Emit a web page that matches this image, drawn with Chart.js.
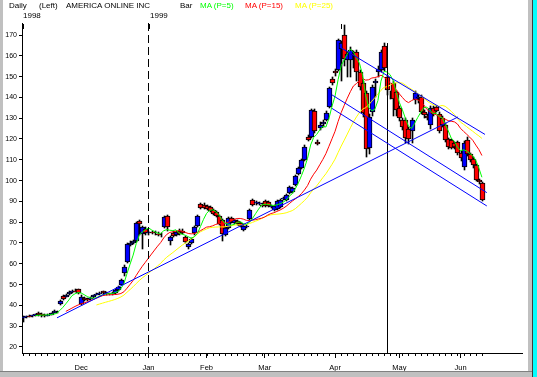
<!DOCTYPE html>
<html>
<head>
<meta charset="utf-8">
<script src="https://cdn.jsdelivr.net/npm/chart.js@4.4.0/dist/chart.umd.min.js"></script>
<style>
    html, body { margin: 0; padding: 0; background: #fff; }
    .wrap { position: relative; width: 537px; height: 377px; overflow: hidden; background: #fff; font-family: 'Liberation Sans', Arial, sans-serif; }
    canvas { position: absolute; left: 0; top: 0; }
    .lbl { position: absolute; font-size: 8px; line-height: 8px; white-space: nowrap; color: #000; }
    .edge { position: absolute; }
</style>
</head>
<body>
<div class="wrap">
    <canvas id="chart" width="537" height="377"></canvas>
    <div class="lbl" style="left:9px;top:2px">Daily</div>
    <div class="lbl" style="left:39px;top:2px">(Left)</div>
    <div class="lbl" style="left:66px;top:2px">AMERICA ONLINE INC</div>
    <div class="lbl" style="left:180px;top:2px">Bar</div>
    <div class="lbl" style="left:200px;top:2px;color:#00ff00">MA (P=5)</div>
    <div class="lbl" style="left:245px;top:2px;color:#ff0000">MA (P=15)</div>
    <div class="lbl" style="left:295px;top:2px;color:#ffff00">MA (P=25)</div>
    <div class="lbl" style="left:23px;top:12px">1998</div>
    <div class="lbl" style="left:150px;top:12px">1999</div>
    <div class="edge" style="left:0;top:0;width:3px;height:377px;background:#c0c0c0"></div>
    <div class="edge" style="left:528px;top:0;width:4px;height:377px;background:#c0c0c0"></div>
    <div class="edge" style="left:532px;top:0;width:1px;height:377px;background:#404040"></div>
    <div class="edge" style="left:533px;top:0;width:4px;height:377px;background:#00ffff"></div>
    <div class="edge" style="left:0;top:371px;width:532px;height:1px;background:#808080"></div>
    <div class="edge" style="left:0;top:372px;width:532px;height:5px;background:#c0c0c0"></div>
</div>
<script>
// trading days, index 0 = 3 Nov 1998 ... index 150 = 10 Jun 1999
const monthIdx = [19, 41, 60, 79, 102, 123, 143];
const monthLabels = ['Dec', 'Jan', 'Feb', 'Mar', 'Apr', 'May', 'Jun'];
const yTicks = [20, 30, 40, 50, 60, 70, 80, 90, 100, 110, 120, 130, 140, 150, 160, 170];

const opens = [
    34, 34.5, 35, 34.8, 35.2, 36.3, 35.8, 35.3, 35, 35.6,
    36.5, 37, 40.8, 44.5, 44.2, 45.5, 46.5, 47, 47.8, 40.5,
    43.5, 43.2, 43, 44, 45, 45.5, 46.8, 46, 45.3, 45.5,
    46, 47.3, 50, 55.4, 61, 69, 70.2, 71, 80.5, 74.5,
    76.5, 75, 75.3, 75, 74.5, 74, 77.5, 83, 71, 75,
    74, 76, 76, 73, 68, 70, 74.6, 78, 88.7, 88.5,
    88, 87.5, 86, 85, 83, 81, 74, 77, 82, 79.6,
    80.5, 79.5, 76.3, 77.5, 81.5, 90.5, 89, 88.8, 88.5, 90,
    89.5, 87.5, 86, 86.5, 87.5, 91, 90.5, 94, 94.5, 98,
    103, 106, 110, 121, 121, 133.6, 118.5, 125.3, 127, 129,
    135.4, 149, 152.7, 153, 163.5, 170, 158, 158, 161, 162,
    152, 147, 142, 115.7, 133, 147, 152, 153, 164.7, 150,
    141.8, 147, 142.6, 135, 129, 129, 125, 124, 138.7, 139.5,
    140, 133, 131, 126.7, 135, 135.5, 132, 130, 126.7, 120,
    119.5, 118, 118.5, 113.3, 106.5, 119.5, 113, 110.5, 107.5, 100.3,
    99
];
const highs = [
    35, 35, 35.3, 35.5, 36, 36.6, 36.3, 35.8, 36, 36.5,
    37.8, 37.5, 42.5, 45, 45.5, 47, 47.5, 47.7, 48, 45,
    44, 43.5, 44, 45, 45.8, 46.5, 47, 46.6, 46, 46.4,
    48, 49.5, 52.5, 59.2, 70, 71, 71.5, 80, 81, 78,
    77.5, 76, 76, 75.8, 75.3, 74.8, 83, 83.5, 73.5, 75.8,
    76, 76.5, 76.5, 73.5, 70, 72.5, 78, 83.5, 89.3, 89,
    88.5, 88, 86.5, 85.5, 83.5, 81.5, 77.5, 82.5, 82.5, 81.5,
    81, 80, 78.8, 78.5, 86.5, 91, 90, 89.8, 89, 90.5,
    90, 88.2, 88.5, 90.5, 91, 92, 93.5, 97.5, 97, 102.5,
    106.5, 110.5, 117, 122, 134.5, 134.5, 119.5, 128, 129, 133.5,
    145, 150, 153.5, 168, 167, 175, 162, 164, 162.5, 163,
    153, 148, 143, 132, 146, 149, 155, 163, 166, 151,
    143, 148, 143, 136, 130, 130, 126, 130, 143, 141,
    141, 134, 132, 136, 136, 136, 133, 131, 127.5, 120.5,
    120, 118.5, 119, 114, 119, 121, 113.5, 111.5, 108, 100.8,
    99.5
];
const lows = [
    32, 34, 34.3, 34.5, 35, 35, 34.6, 34.5, 34.8, 35.2,
    36.2, 36.2, 40.3, 42.8, 43.8, 45, 46, 46.2, 45.5, 40.2,
    42, 42, 42.6, 43.6, 44.8, 45, 45.5, 45.2, 44.8, 45,
    45.7, 47, 49.7, 54, 60.5, 68.5, 69.5, 70.5, 74, 67,
    73.8, 74, 74.3, 74, 73.4, 73, 77, 76, 69, 72.8,
    73.5, 74, 74.5, 70, 67, 69.5, 74, 77.5, 86.5, 86.5,
    85.8, 85, 83.5, 82.5, 78.5, 71, 73.5, 76.5, 79.5, 79,
    78.8, 77.5, 75.8, 77, 81, 88, 88.5, 88.3, 87.5, 87.5,
    87.2, 86.8, 85.5, 86, 87, 90.5, 90, 93.5, 94, 97.5,
    102.5, 105.5, 109.5, 119, 120.5, 123, 117, 124.5, 126, 128.5,
    135, 146, 150.5, 152.5, 148, 155, 150, 150, 154, 148,
    143.5, 130.5, 111.5, 113, 131, 140, 150, 152, 152.5, 141,
    139, 131, 131, 128.5, 124.5, 118, 117.5, 118, 137, 137.5,
    132, 130, 129, 125, 131, 133, 123, 126, 118.5, 115,
    115, 115.2, 112.5, 109.5, 105, 112, 109, 106, 100, 98.5,
    90
];
const closes = [
    34.5, 35, 34.6, 35.3, 35.8, 35.6, 35.2, 34.9, 35.6, 36.2,
    37.2, 36.6, 42, 43, 45, 46.5, 46.8, 46.6, 45.8, 44,
    42.5, 42.4, 43.5, 44.8, 45.3, 46, 45.8, 45.5, 45.6, 45.9,
    47.5, 49, 52, 58.6, 69.5, 70, 70.8, 79.5, 79, 77.5,
    74.8, 75.5, 74.8, 74.6, 74, 73.6, 82.5, 77.5, 73, 73.2,
    75.5, 74.5, 75, 70.5, 69.6, 72, 77.8, 83, 87, 87,
    86.3, 85.5, 84, 83, 79, 74.5, 77, 82, 80.3, 81,
    79.3, 78, 78.3, 78, 86, 88.5, 89.5, 89.3, 88, 88,
    88, 87.8, 88, 90, 90.5, 91.6, 93, 97, 96.5, 102,
    106, 110, 116, 119.5, 134, 124, 117.6, 126.7, 128, 132.5,
    144.5, 147, 151.5, 167.5, 166, 158.5, 161, 163, 160.5, 152,
    145, 132.5, 115, 130.6, 145, 148, 153.5, 162, 154, 143.6,
    141.4, 139, 134, 130, 126, 120.5, 120, 129, 142, 140,
    133, 131.5, 130, 135, 132, 133.5, 123.7, 126.7, 119.5, 116,
    115.7, 116, 113.3, 111, 118, 113, 110, 107.5, 100.3, 99.5,
    90.7
];

// trend lines: [startIdx, startVal, endIdx, endVal]
const upTrend = [11.1, 34, 142.2, 130.6];
const chanTop = [103.9, 163.9, 151, 122.2];
const chanMid = [101, 141.2, 151.6, 94.2];
const chanLow = [101, 134.7, 151.6, 87.8];
const janLineIdx = 41.02;
const markLineIdx = [119.14, 166];

const Y_MIN = 17.1;
const Y_MAX = 175.77;

function movingAvg(arr, p) {
    return arr.map((v, i) => {
        if (i < p - 1) return { x: i, y: null };
        let s = 0;
        for (let k = i - p + 1; k <= i; k++) s += arr[k];
        return { x: i, y: s / p };
    });
}

function seg(t) {
    return [{ x: t[0], y: t[1] }, { x: t[2], y: t[3] }];
}

const wickData = highs.map((h, i) => ({ x: i, y: [lows[i], h] }));
const bodyData = opens.map((o, i) => ({ x: i, y: [o, closes[i]] }));
const bodyColors = opens.map((o, i) => (closes[i] >= o ? '#0000ff' : '#ff0000'));

function lineSet(data, color, order, dash) {
    return {
        type: 'line',
        data: data,
        borderColor: color,
        borderWidth: 1,
        borderDash: dash || [],
        pointRadius: 0,
        tension: 0,
        spanGaps: false,
        order: order,
    };
}

// snap the candle bars to whole pixels so they look crisp
const snapBars = {
    id: 'snapBars',
    afterDatasetsUpdate(chart) {
        chart.data.datasets.forEach((ds, di) => {
            if (ds.type !== 'bar') return;
            chart.getDatasetMeta(di).data.forEach(el => {
                el.x = Math.round(el.x) + 0.5;
                el.y = Math.round(el.y);
                el.base = Math.round(el.base);
            });
        });
    },
};

const extraTicks = {
    id: 'extraTicks',
    afterDraw(chart) {
        const ctx = chart.ctx;
        const xs = chart.scales.x;
        const bottom = chart.chartArea.bottom;
        ctx.save();
        ctx.strokeStyle = '#000';
        ctx.lineWidth = 1;
        ctx.beginPath();
        for (let i = 0; i <= 150; i += 2) {
            const px = Math.round(xs.getPixelForValue(i)) + 0.5;
            ctx.moveTo(px, bottom);
            ctx.lineTo(px, bottom + 3);
        }
        // little marks along the top
        [23, 149, 341].forEach(px => {
            ctx.moveTo(px + 0.5, 24);
            ctx.lineTo(px + 0.5, 29);
        });
        ctx.stroke();
        ctx.restore();
    },
};

Chart.defaults.font.family = "'Liberation Sans', Arial, sans-serif";
Chart.defaults.color = '#000';

new Chart(document.getElementById('chart'), {
    type: 'bar',
    data: {
        datasets: [
            lineSet(seg(upTrend), '#0000ff', 0),
            lineSet(seg(chanTop), '#0000ff', 0),
            lineSet(seg(chanMid), '#0000ff', 0),
            lineSet(seg(chanLow), '#0000ff', 0),
            lineSet([{ x: janLineIdx, y: Y_MAX }, { x: janLineIdx, y: Y_MIN }], '#000', 0, [8, 4]),
            lineSet([{ x: markLineIdx[0], y: markLineIdx[1] }, { x: markLineIdx[0], y: Y_MIN }], '#000', 0),
            lineSet(movingAvg(closes, 5), '#00ff00', 1),
            lineSet(movingAvg(closes, 15), '#ff0000', 2),
            lineSet(movingAvg(closes, 25), '#ffff00', 3),
            {
                type: 'bar',
                data: bodyData,
                backgroundColor: bodyColors,
                borderColor: '#000',
                borderWidth: 1,
                borderSkipped: false,
                barThickness: 5,
                grouped: false,
                order: 5,
            },
            {
                type: 'bar',
                data: wickData,
                backgroundColor: '#000',
                barThickness: 1,
                grouped: false,
                order: 6,
            },
        ],
    },
    options: {
        responsive: false,
        animation: false,
        devicePixelRatio: 1,
        layout: { padding: { left: 0, top: 23, right: 15, bottom: 0 } },
        plugins: { legend: { display: false }, tooltip: { enabled: false } },
        scales: {
            x: {
                type: 'linear',
                offset: false,
                min: -0.33,
                max: 163.1,
                afterBuildTicks: s => { s.ticks = monthIdx.map(v => ({ value: v })); },
                afterFit: s => { s.height = 24; },
                grid: { drawOnChartArea: false, offset: false, tickLength: 5, tickColor: '#000' },
                border: { color: '#000' },
                ticks: {
                    autoSkip: false,
                    maxRotation: 0,
                    padding: 5,
                    font: { size: 7.5 },
                    callback: v => monthLabels[monthIdx.indexOf(v)],
                },
            },
            y: {
                min: Y_MIN,
                max: Y_MAX,
                afterBuildTicks: s => { s.ticks = yTicks.map(v => ({ value: v })); },
                afterFit: s => { s.width = 22; },
                grid: { drawOnChartArea: false, tickLength: 3, tickColor: '#000' },
                border: { color: '#000' },
                ticks: { padding: 2, font: { size: 7 } },
            },
        },
    },
    plugins: [snapBars, extraTicks],
});
</script>
</body>
</html>
